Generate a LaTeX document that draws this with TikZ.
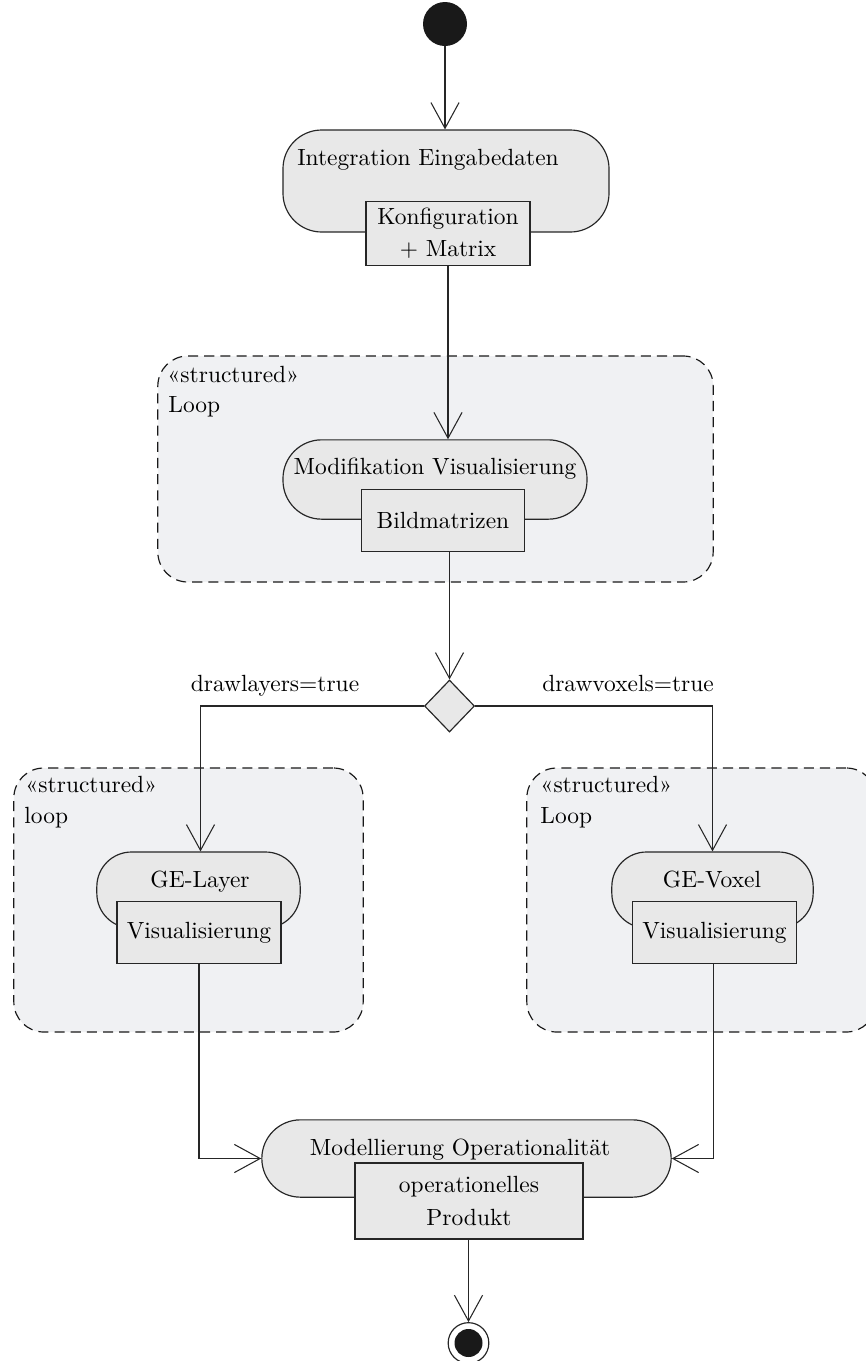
\documentclass[tikz,border=0pt]{standalone}
\usepackage{fontspec}
\usetikzlibrary{shapes.geometric,arrows.meta}
\definecolor{actfill}{HTML}{E8E8E8}
\definecolor{loopfill}{HTML}{F0F1F3}
\begin{document}
\begin{tikzpicture}[x=0.015cm,y=-0.015cm, font=\normalsize,
  action/.style={draw=black!85,fill=actfill,rounded corners=0.58cm,line width=.5pt,inner sep=0pt},
  pin/.style={draw=black!85,fill=actfill,line width=.5pt,align=center,inner sep=0pt},
  region/.style={draw=black!90,fill=loopfill,dash pattern=on 4.3pt off 2.6pt,rounded corners=0.45cm,line width=.5pt,inner sep=0pt},
  lbl/.style={inner sep=0pt},
  flow/.style={draw=black!85,line width=.45pt,-{Straight Barb[length=11pt,width=12pt]}}]
\useasboundingbox (0,0) rectangle (866,1361);
% initial node and input integration
\node[circle,fill=black!90,minimum size=0.66cm,inner sep=0pt] (start) at (445,24) {};
\node[action,minimum width=4.89cm,minimum height=1.53cm] (integ) at (446,181) {};
\node[lbl,anchor=base] (integtxt) at (428,165) {Integration Eingabedaten};
\node[pin,minimum width=2.46cm,minimum height=0.95cm] (integpin) at (448,233.5) {Konfiguration\\[1.7pt] + Matrix};

% structured loop around visualisation
\node[region,minimum width=8.33cm,minimum height=3.39cm] (loopA) at (435.5,469) {};
\node[lbl,anchor=base west] (loopAst) at (167,382) {«structured»};
\node[lbl,anchor=base west] (loopAnm) at (168,412) {Loop};
\node[action,minimum width=4.56cm,minimum height=1.19cm] (modif) at (435,479.5) {};
\node[lbl,anchor=base] (modiftxt) at (435,474) {Modifikation Visualisierung};
\node[pin,minimum width=2.45cm,minimum height=0.92cm] (modifpin) at (443,520.5) {Bildmatrizen};

% decision
\node[diamond,draw=black!85,fill=actfill,line width=.5pt,minimum width=0.75cm,minimum height=0.78cm,inner sep=0pt] (choice) at (449.5,706) {};
\node[lbl,anchor=base] (lyrlbl) at (275,691) {drawlayers=true};
\node[lbl,anchor=base] (vxllbl) at (628,691) {drawvoxels=true};

% left loop: layers
\node[region,minimum width=5.24cm,minimum height=3.96cm] (loopB) at (188.5,900) {};
\node[lbl,anchor=base west] (loopBst) at (25,792) {«structured»};
\node[lbl,anchor=base west] (loopBnm) at (24,823) {loop};
\node[action,minimum width=3.05cm,minimum height=1.14cm,rounded corners=0.52cm] (layer) at (198.5,890) {};
\node[lbl,anchor=base] (layertxt) at (200,887) {GE-Layer};
\node[pin,minimum width=2.46cm,minimum height=0.92cm] (layerpin) at (199,932.5) {Visualisierung};

% right loop: voxels
\node[region,minimum width=5.24cm,minimum height=3.96cm] (loopC) at (701.5,900) {};
\node[lbl,anchor=base west] (loopCst) at (540,792) {«structured»};
\node[lbl,anchor=base west] (loopCnm) at (540,823) {Loop};
\node[action,minimum width=3.02cm,minimum height=1.14cm,rounded corners=0.52cm] (voxel) at (712.5,890) {};
\node[lbl,anchor=base] (voxeltxt) at (712,887) {GE-Voxel};
\node[pin,minimum width=2.46cm,minimum height=0.92cm] (voxelpin) at (714.5,932.5) {Visualisierung};

% operational modelling and final node
\node[action,minimum width=6.14cm,minimum height=1.16cm] (model) at (466.5,1158.5) {};
\node[lbl,anchor=base] (modeltxt) at (460,1155) {Modellierung Operationalität};
\node[pin,minimum width=3.42cm,minimum height=1.14cm] (modelpin) at (469,1201) {operationelles\\[1.7pt] Produkt};
\node[circle,draw=black!85,line width=.5pt,minimum size=0.61cm,inner sep=0pt] (final) at (468.5,1343) {};
\node[circle,fill=black!90,minimum size=0.42cm,inner sep=0pt] (finaldot) at (final) {};

% control flow
\draw[flow] (start) -- (start |- integ.north);
\draw[flow] (integpin.south) -- (integpin.south |- modif.north);
\draw[flow] (choice.north |- modifpin.south) -- (choice.north);
\draw[flow] (choice.west) -| ([xshift=0.03cm]layer.north);
\draw[flow] (choice.east) -| (voxel.north);
\draw[flow] (layerpin.south) |- (model.west);
\draw[flow] ([xshift=-0.02cm]voxelpin.south) |- (model.east);
\draw[flow] (final |- modelpin.south) -- (final.north);
\end{tikzpicture}
\end{document}
